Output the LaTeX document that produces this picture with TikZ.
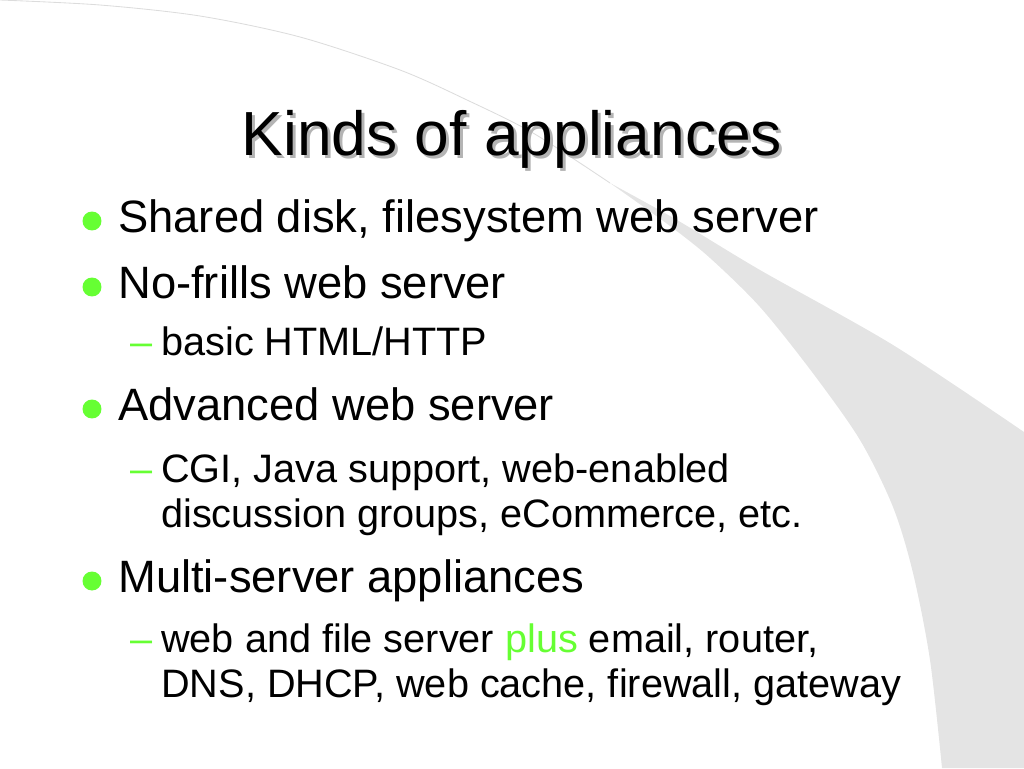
\documentclass[tikz,border=0pt]{standalone}
\usepackage{fontspec}
\setmainfont{Liberation Sans}

\definecolor{bulletgreen}{HTML}{66FF33}
\definecolor{swoosh}{HTML}{E4E4E4}
\definecolor{arcgray}{HTML}{DCDCDC}
\definecolor{shadowgray}{HTML}{B4B4B4}

\begin{document}
\begin{tikzpicture}[x=0.0248046875cm, y=-0.0248046875cm,
    title/.style={anchor=base, inner sep=0pt, font=\fontsize{44}{50}\selectfont},
    itemtext/.style={anchor=base west, inner sep=0pt, font=\fontsize{32}{36}\selectfont},
    subtext/.style={anchor=base west, inner sep=0pt, font=\fontsize{28}{32}\selectfont},
    dotmark/.style={circle, fill=bulletgreen, inner sep=0pt, minimum size=13.4pt},
    dashmark/.style={subtext, text=bulletgreen}]
  \useasboundingbox (0,0) rectangle (1024,768);
  % background swoosh
  \draw[arcgray, line width=0.6pt] plot[smooth] coordinates
    {(0,0) (100,5) (200,16) (300,37) (400,70) (467,100) (533,133) (610,183)};
  \fill[swoosh] plot[smooth] coordinates
    {(610,183) (677,220) (760,270) (893,345) (1024,432)}
    -- (1024,768) -- plot[smooth] coordinates
    {(942,768) (930,660) (913,573) (893,507) (860,440) (812,372) (760,307) (710,258) (670,226) (610,183)}
    -- cycle;
  % title
  \node[title, text=shadowgray] (titleshadow) at (515,158) {Kinds of appliances};
  \node[title] (title) at (512,155) {Kinds of appliances};
  % items
  \node[dotmark] (dot1) at (92,221) {};
  \node[itemtext] (item1) at (118,232) {Shared disk, filesystem web server};
  \node[dotmark] (dot2) at (92,287) {};
  \node[itemtext] (item2) at (118,298) {No-frills web server};
  \node[dashmark] (dash2) at (130,355) {–};
  \node[subtext] (sub2) at (161,355) {basic HTML/HTTP};
  \node[dotmark] (dot3) at (92,409) {};
  \node[itemtext] (item3) at (118,420) {Advanced web server};
  \node[dashmark] (dash3) at (130,482) {–};
  \node[subtext] (sub3a) at (161,482) {CGI, Java support, web-enabled};
  \node[subtext] (sub3b) at (161,527) {discussion groups, eCommerce, etc.};
  \node[dotmark] (dot4) at (92,581) {};
  \node[itemtext] (item4) at (118,592) {Multi-server appliances};
  \node[dashmark] (dash4) at (130,652) {–};
  \node[subtext] (sub4a) at (161,652) {web and file server \textcolor{bulletgreen}{plus} email, router,};
  \node[subtext] (sub4b) at (161,697) {DNS, DHCP, web cache, firewall, gateway};
\end{tikzpicture}
\end{document}
